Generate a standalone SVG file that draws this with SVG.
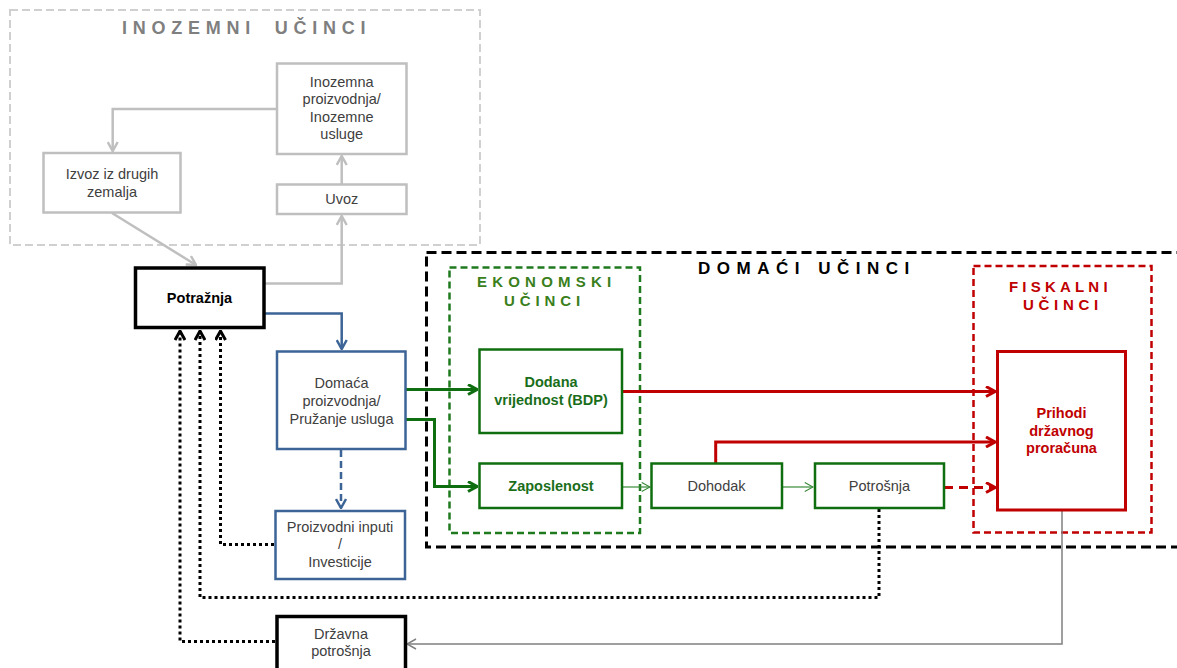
<svg xmlns="http://www.w3.org/2000/svg" width="1177" height="668" viewBox="0 0 1177 668">
<style>
text{font-family:"Liberation Sans",Arial,sans-serif;font-size:14.5px;fill:#404040;text-anchor:middle}
.b{font-weight:bold}
.t{font-weight:bold;text-anchor:start}
.gb{fill:none;stroke:#bfbfbf;stroke-width:2.5}
.bl{fill:#fff;stroke:#3c6496;stroke-width:2.5}
.gr{fill:#fff;stroke:#0f6e0f;stroke-width:2.5}
.rd{fill:#fff;stroke:#c00000;stroke-width:3}
.bk{fill:#fff;stroke:#000;stroke-width:3.5}
.c{fill:none}
</style>
<defs>
<marker id="mg" viewBox="0 0 12 12" refX="11" refY="6" markerWidth="12" markerHeight="12" markerUnits="userSpaceOnUse" orient="auto"><path d="M2,1 L11,6 L2,11" fill="none" stroke="#bfbfbf" stroke-width="2.5"/></marker>
<marker id="mb" viewBox="0 0 12 12" refX="11" refY="6" markerWidth="12" markerHeight="12" markerUnits="userSpaceOnUse" orient="auto"><path d="M2,1 L11,6 L2,11" fill="none" stroke="#3c6496" stroke-width="2.5" stroke-dasharray="none"/></marker>
<marker id="mgr" viewBox="0 0 12 12" refX="11" refY="6" markerWidth="12" markerHeight="12" markerUnits="userSpaceOnUse" orient="auto"><path d="M2,1 L11,6 L2,11" fill="none" stroke="#0f6e0f" stroke-width="3"/></marker>
<marker id="mgt" viewBox="0 0 12 12" refX="11" refY="6" markerWidth="11" markerHeight="11" markerUnits="userSpaceOnUse" orient="auto"><path d="M2,1 L11,6 L2,11" fill="none" stroke="#3a8a3a" stroke-width="1.2"/></marker>
<marker id="mr" viewBox="0 0 12 12" refX="11" refY="6" markerWidth="12" markerHeight="12" markerUnits="userSpaceOnUse" orient="auto"><path d="M2,1 L11,6 L2,11" fill="none" stroke="#c00000" stroke-width="3" stroke-dasharray="none"/></marker>
<marker id="mgy" viewBox="0 0 12 12" refX="11" refY="6" markerWidth="12" markerHeight="12" markerUnits="userSpaceOnUse" orient="auto"><path d="M2,1 L11,6 L2,11" fill="none" stroke="#808080" stroke-width="1.5"/></marker>
<marker id="mk" viewBox="0 0 12 12" refX="11" refY="6" markerWidth="12" markerHeight="12" markerUnits="userSpaceOnUse" orient="auto"><path d="M2,1 L11,6 L2,11" fill="none" stroke="#000" stroke-width="3" stroke-dasharray="none"/></marker>
</defs>

<g id="inozemni-ucinci">
<rect x="10" y="10" width="470" height="235" fill="none" stroke="#d0d0d0" stroke-width="2" stroke-dasharray="8 4"/>
<text class="t" x="122" y="34" style="font-size:18px;letter-spacing:5.75px;word-spacing:8px;fill:#7f7f7f">INOZEMNI UČINCI</text>
</g>
<g id="domaci-ucinci">
<rect x="426.5" y="252.5" width="770" height="294.5" fill="none" stroke="#000" stroke-width="3" stroke-dasharray="10 5"/>
<text class="t" x="698" y="274" style="font-size:17px;letter-spacing:6.5px;word-spacing:1px;fill:#000">DOMAĆI UČINCI</text>
</g>
<g id="ekonomski-ucinci">
<rect x="449.5" y="267.5" width="190.5" height="265.5" fill="none" stroke="#1f7a1f" stroke-width="2.5" stroke-dasharray="7 4"/>
<text class="t" x="477" y="287" style="font-size:15px;letter-spacing:5.2px;fill:#3a7f1c">EKONOMSKI</text>
<text class="t" x="504" y="306" style="font-size:15px;letter-spacing:4.9px;fill:#3a7f1c">UČINCI</text>
</g>
<g id="fiskalni-ucinci">
<rect x="973.5" y="266" width="178" height="266.5" fill="none" stroke="#c00000" stroke-width="2.5" stroke-dasharray="7 4"/>
<text class="t" x="1009" y="292" style="font-size:15px;letter-spacing:4.2px;fill:#c00000">FISKALNI</text>
<text class="t" x="1023" y="310" style="font-size:15px;letter-spacing:4.7px;fill:#c00000">UČINCI</text>
</g>

<g id="connectors">
<path class="c" d="M276.7,109 H112.7 V151" stroke="#bfbfbf" stroke-width="2.5" marker-end="url(#mg)"/>
<path class="c" d="M341.7,184 V156" stroke="#bfbfbf" stroke-width="2.5" marker-end="url(#mg)"/>
<path class="c" d="M265,283.5 H341.7 V216" stroke="#bfbfbf" stroke-width="2.5" marker-end="url(#mg)"/>
<path class="c" d="M112,213 L196,265" stroke="#bfbfbf" stroke-width="2.5" marker-end="url(#mg)"/>
<path class="c" d="M265,313.5 H341.7 V349" stroke="#3c6496" stroke-width="2.5" marker-end="url(#mb)"/>
<path class="c" d="M341,450 V508" stroke="#3c6496" stroke-width="2.5" stroke-dasharray="7 4" marker-end="url(#mb)"/>
<path class="c" d="M406,389.5 H477" stroke="#0f6e0f" stroke-width="3" marker-end="url(#mgr)"/>
<path class="c" d="M406,419.5 H434.5 V486.5 H477" stroke="#0f6e0f" stroke-width="3" marker-end="url(#mgr)"/>
<path class="c" d="M622,487 H650" stroke="#3a8a3a" stroke-width="1.2" marker-end="url(#mgt)"/>
<path class="c" d="M782,487 H813" stroke="#3a8a3a" stroke-width="1.2" marker-end="url(#mgt)"/>
<path class="c" d="M622,391.5 H995" stroke="#c00000" stroke-width="3" marker-end="url(#mr)"/>
<path class="c" d="M715.7,463 V442 H995" stroke="#c00000" stroke-width="3" marker-end="url(#mr)"/>
<path class="c" d="M944,487.5 H995" stroke="#c00000" stroke-width="3" stroke-dasharray="9 6" marker-end="url(#mr)"/>
<path class="c" d="M1062,511 V644 H407" stroke="#808080" stroke-width="1.5" marker-end="url(#mgy)"/>
<path class="c" d="M274,544.5 H220.5 V331" stroke="#000" stroke-width="3" stroke-dasharray="3 3" marker-end="url(#mk)"/>
<path class="c" d="M879,509 V597.5 H200 V331" stroke="#000" stroke-width="3" stroke-dasharray="3 3" marker-end="url(#mk)"/>
<path class="c" d="M275,641.5 H180 V331" stroke="#000" stroke-width="3" stroke-dasharray="3 3" marker-end="url(#mk)"/>
</g>

<g id="inozemna-proizvodnja">
<rect class="gb" x="277" y="63.5" width="129.5" height="90.5" fill="#fff"/>
<text x="341.7" y="87">Inozemna</text>
<text x="341.7" y="104.3">proizvodnja/</text>
<text x="341.7" y="121.6">Inozemne</text>
<text x="341.7" y="139">usluge</text>
</g>
<g id="izvoz">
<rect class="gb" x="43.5" y="153" width="137" height="59.5"/>
<text x="112" y="179">Izvoz iz drugih</text>
<text x="112" y="196.5">zemalja</text>
</g>
<g id="uvoz">
<rect class="gb" x="277" y="184.5" width="129.5" height="29.5"/>
<text x="341.7" y="204">Uvoz</text>
</g>
<g id="potraznja">
<rect class="bk" x="135.5" y="268" width="128.5" height="59.5"/>
<text class="b" x="199.5" y="303" style="fill:#000">Potražnja</text>
</g>
<g id="domaca-proizvodnja">
<rect class="bl" x="277" y="351.5" width="128.5" height="97.5"/>
<text x="341.5" y="388">Domaća</text>
<text x="341.5" y="406">proizvodnja/</text>
<text x="341.5" y="424">Pružanje usluga</text>
</g>
<g id="proizvodni-inputi">
<rect class="bl" x="275.5" y="511" width="129.5" height="68"/>
<text x="340" y="532">Proizvodni inputi</text>
<text x="340" y="549">/</text>
<text x="340" y="566.5">Investicije</text>
</g>
<g id="drzavna-potrosnja">
<rect class="bk" x="277" y="616.5" width="128.5" height="70"/>
<text x="341" y="639">Državna</text>
<text x="341" y="655.5">potrošnja</text>
</g>
<g id="dodana-vrijednost">
<rect class="gr" x="479.5" y="349.5" width="142.5" height="83.5"/>
<text class="b" x="551" y="387" style="fill:#1a6e1a">Dodana</text>
<text class="b" x="551" y="405" style="fill:#1a6e1a">vrijednost (BDP)</text>
</g>
<g id="zaposlenost">
<rect class="gr" x="479.5" y="463.5" width="142.5" height="44.5"/>
<text class="b" x="551" y="491" style="fill:#1a6e1a">Zaposlenost</text>
</g>
<g id="dohodak">
<rect class="gr" x="651.5" y="463.5" width="130.5" height="44.5"/>
<text x="716.5" y="491">Dohodak</text>
</g>
<g id="potrosnja">
<rect class="gr" x="815" y="463.5" width="129" height="44.5"/>
<text x="879.5" y="491">Potrošnja</text>
</g>
<g id="prihodi">
<rect class="rd" x="997.5" y="351.5" width="128" height="158.5"/>
<text class="b" x="1061.5" y="418" style="fill:#c00000">Prihodi</text>
<text class="b" x="1061.5" y="435.5" style="fill:#c00000">državnog</text>
<text class="b" x="1061.5" y="453" style="fill:#c00000">proračuna</text>
</g>
</svg>
